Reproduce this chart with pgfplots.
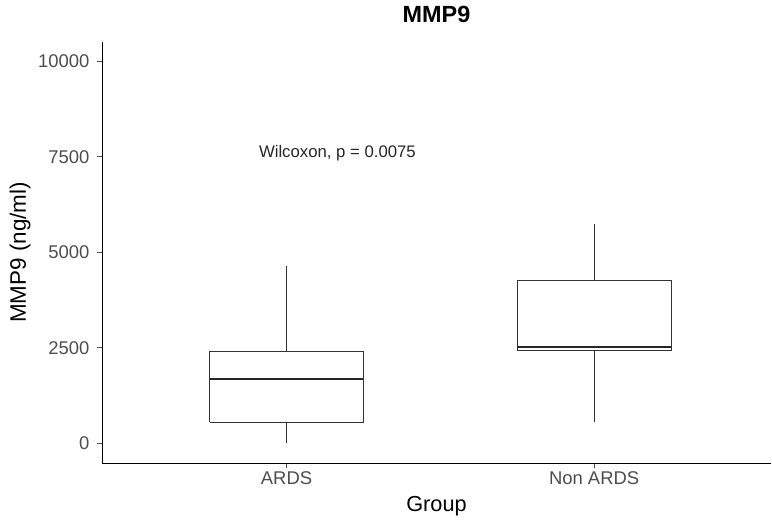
\documentclass[border=0pt]{standalone}
\usepackage{fontspec}
\setmainfont{Liberation Sans}
\usepackage{pgfplots}
\pgfplotsset{compat=1.18}
\definecolor{boxcol}{HTML}{333333}
\definecolor{tickcol}{HTML}{4D4D4D}
\begin{document}
\begin{tikzpicture}
\path[use as bounding box] (-102bp,-62bp) rectangle (670bp,463bp);
\begin{axis}[
  at={(0,0)}, anchor=south west,
  scale only axis, width=669bp, height=421bp,
  xmin=0.4, xmax=2.575, ymin=-515, ymax=10500,
  axis x line*=bottom, axis y line*=left,
  axis line style={-, black, line width=0.8bp},
  xtick={1,2}, xticklabels={ARDS, Non ARDS},
  ytick={0,2500,5000,7500,10000},
  scaled y ticks=false,
  yticklabel style={/pgf/number format/fixed, /pgf/number format/precision=0, xshift=-4bp},
  tick align=outside, major tick length=5bp,
  tick style={tickcol, line width=0.8bp},
  /pgf/number format/assume math mode=true,
  /pgf/number format/set thousands separator={},
  ticklabel style={font=\fontsize{18.5}{21}\selectfont, text=tickcol},
  xlabel={Group}, ylabel={MMP9 (ng/ml)},
  xlabel style={font=\fontsize{21.8}{24}\selectfont, at={(axis description cs:0.5,-0.102)}, anchor=center},
  ylabel style={font=\fontsize{22.5}{26}\selectfont, at={(axis description cs:-0.1226,0.5)}, anchor=center},
  title={\textbf{MMP9}},
  title style={font=\fontsize{23.5}{26}\selectfont, at={(axis description cs:0.5,1.052)}, anchor=center},
  clip=false,
]
% ARDS: whisker low 16, Q1 557, median 1690, Q3 2414, whisker high 4638
\addplot[boxcol, line width=0.9bp] coordinates {(0.75,557) (1.25,557) (1.25,2414) (0.75,2414) (0.75,557)};
\addplot[boxcol, line width=0.9bp] coordinates {(1,2414) (1,4638)};
\addplot[boxcol, line width=0.9bp] coordinates {(1,557) (1,16)};
\addplot[black!85, line width=2.2bp] coordinates {(0.75,1690) (1.25,1690)};
% Non ARDS: whisker low 565, Q1 2441, median 2519, Q3 4264, whisker high 5728
\addplot[boxcol, line width=0.9bp] coordinates {(1.75,2441) (2.25,2441) (2.25,4264) (1.75,4264) (1.75,2441)};
\addplot[boxcol, line width=0.9bp] coordinates {(2,4264) (2,5728)};
\addplot[boxcol, line width=0.9bp] coordinates {(2,2441) (2,565)};
\addplot[black!85, line width=2.2bp] coordinates {(1.75,2519) (2.25,2519)};
\node[anchor=west, font=\fontsize{16.8}{19}\selectfont, text=black!85] at (axis cs:0.899,7590) {Wilcoxon, p = 0.0075};
\end{axis}
\end{tikzpicture}
\end{document}
